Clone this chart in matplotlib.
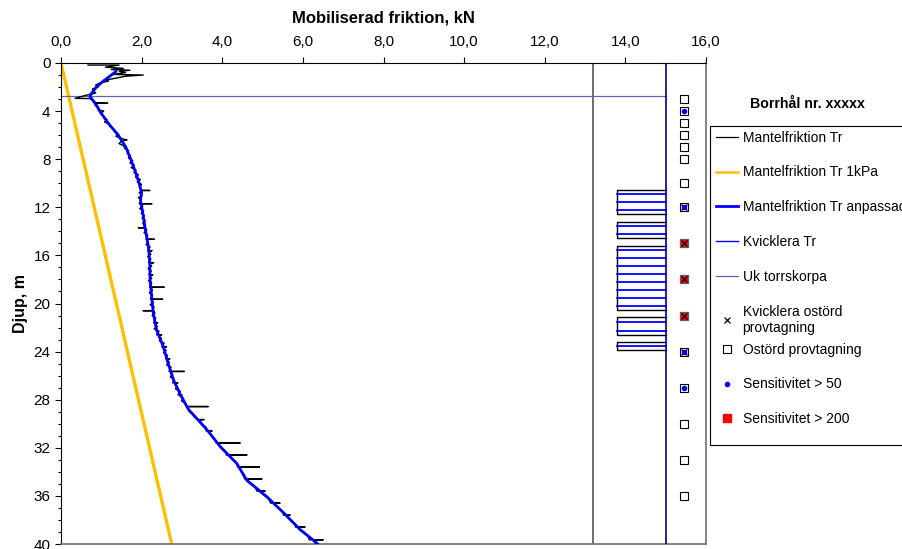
import matplotlib
matplotlib.use("Agg")
import matplotlib.pyplot as plt
from matplotlib.lines import Line2D
from matplotlib.patches import Rectangle
from matplotlib.ticker import MultipleLocator, FuncFormatter

# --- Data ---
# raw mobilised friction, (depth m, friction kN); spikes are repeated depths
raw_tr = [
    (0.17, 0.67), (0.17, 1.44), (0.35, 1.10), (0.45, 1.55), (0.55, 1.25), (0.60, 1.71),
    (0.70, 1.45), (0.80, 1.60), (0.95, 1.30), (1.00, 2.04), (1.10, 1.60), (1.30, 1.30),
    (1.41, 1.12), (1.50, 1.18), (1.69, 0.95), (1.83, 0.86), (2.00, 0.92), (2.15, 0.78),
    (2.30, 0.80), (2.50, 0.86), (2.70, 0.60), (2.94, 0.35), (2.96, 0.72), (3.10, 0.80),
    (3.30, 0.85), (3.35, 1.16), (3.35, 0.86), (3.50, 0.84), (3.70, 0.93), (3.90, 0.94),
    (4.00, 1.06), (4.20, 0.98), (4.50, 1.06), (4.70, 1.14), (4.90, 1.08), (5.10, 1.20),
    (5.30, 1.22), (5.50, 1.31), (5.70, 1.33), (5.90, 1.42), (6.10, 1.36), (6.30, 1.52),
    (6.40, 1.64), (6.50, 1.50), (6.70, 1.44), (6.90, 1.56), (7.10, 1.58), (7.30, 1.68),
    (7.50, 1.64), (7.70, 1.72), (7.90, 1.67), (8.10, 1.78), (8.30, 1.71), (8.50, 1.82),
    (8.70, 1.74), (8.90, 1.86), (9.10, 1.81), (9.30, 1.92), (9.50, 1.85), (9.70, 1.97),
    (9.90, 1.89), (10.10, 2.00), (10.30, 1.94), (10.60, 2.00), (10.60, 2.20), (10.60, 2.00),
    (10.80, 1.94), (11.00, 2.01), (11.20, 1.92), (11.40, 1.99), (11.70, 1.94), (11.70, 2.25),
    (11.70, 1.96), (11.90, 2.03), (12.10, 1.95), (12.30, 2.05), (12.50, 1.99), (12.70, 2.07),
    (12.90, 2.01), (13.10, 2.09), (13.30, 2.03), (13.70, 2.08), (13.70, 1.92), (13.70, 2.08),
    (13.90, 2.13), (14.10, 2.06), (14.30, 2.15), (14.66, 2.11), (14.66, 2.31), (14.66, 2.12),
    (14.90, 2.16), (15.10, 2.11), (15.30, 2.21), (15.60, 2.15), (15.60, 2.26), (15.70, 2.18),
    (15.90, 2.23), (16.10, 2.15), (16.30, 2.23), (16.60, 2.17), (16.60, 2.30), (16.70, 2.20),
    (16.90, 2.25), (17.10, 2.16), (17.30, 2.24), (17.60, 2.18), (17.60, 2.28), (17.70, 2.20),
    (17.90, 2.25), (18.10, 2.17), (18.30, 2.25), (18.65, 2.20), (18.65, 2.56), (18.65, 2.22),
    (18.90, 2.27), (19.10, 2.19), (19.30, 2.27), (19.65, 2.22), (19.65, 2.52), (19.65, 2.24),
    (19.90, 2.29), (20.10, 2.21), (20.30, 2.31), (20.60, 2.26), (20.60, 2.04), (20.60, 2.30),
    (20.80, 2.33), (21.00, 2.26), (21.20, 2.35), (21.60, 2.30), (21.60, 2.40), (21.70, 2.33),
    (21.90, 2.39), (22.10, 2.31), (22.30, 2.43), (22.60, 2.37), (22.60, 2.50), (22.70, 2.42),
    (22.90, 2.49), (23.10, 2.44), (23.30, 2.56), (23.60, 2.50), (23.60, 2.62), (23.70, 2.53),
    (23.90, 2.61), (24.10, 2.54), (24.30, 2.64), (24.60, 2.60), (24.60, 2.70), (24.70, 2.62),
    (24.90, 2.69), (25.10, 2.62), (25.30, 2.73), (25.65, 2.68), (25.65, 3.06), (25.65, 2.72),
    (25.90, 2.77), (26.10, 2.71), (26.30, 2.81), (26.60, 2.77), (26.60, 2.90), (26.70, 2.82),
    (26.90, 2.89), (27.10, 2.84), (27.30, 2.96), (27.60, 2.90), (27.60, 3.00), (27.70, 2.95),
    (27.90, 3.03), (28.10, 2.99), (28.30, 3.09), (28.57, 3.12), (28.57, 3.65), (28.57, 3.14),
    (28.80, 3.17), (29.00, 3.18), (29.20, 3.28), (29.40, 3.30), (29.65, 3.40), (29.65, 3.55),
    (29.70, 3.42), (29.90, 3.48), (30.10, 3.52), (30.30, 3.60), (30.60, 3.60), (30.60, 3.75),
    (30.70, 3.66), (30.90, 3.72), (31.10, 3.76), (31.30, 3.82), (31.60, 3.85), (31.60, 4.44),
    (31.60, 3.88), (31.90, 3.95), (32.10, 4.00), (32.30, 4.08), (32.60, 4.10), (32.60, 4.61),
    (32.60, 4.14), (32.90, 4.24), (33.10, 4.30), (33.30, 4.36), (33.60, 4.38), (33.60, 4.92),
    (33.60, 4.42), (33.90, 4.46), (34.10, 4.50), (34.30, 4.52), (34.60, 4.56), (34.60, 4.98),
    (34.60, 4.60), (34.90, 4.66), (35.10, 4.74), (35.30, 4.82), (35.60, 4.86), (35.60, 5.06),
    (35.60, 4.92), (35.90, 5.02), (36.10, 5.10), (36.30, 5.16), (36.60, 5.20), (36.60, 5.43),
    (36.60, 5.26), (36.90, 5.36), (37.10, 5.42), (37.30, 5.50), (37.60, 5.52), (37.60, 5.68),
    (37.60, 5.58), (37.90, 5.66), (38.10, 5.72), (38.30, 5.80), (38.60, 5.82), (38.60, 6.05),
    (38.60, 5.88), (38.90, 5.98), (39.10, 6.04), (39.30, 6.12), (39.65, 6.16), (39.65, 6.50),
    (39.65, 6.24), (39.90, 6.30), (40.10, 6.36), (40.30, 6.42),
]
raw_depth = [p[0] for p in raw_tr]
raw_fric = [p[1] for p in raw_tr]

# smoothed ("anpassad") curve
adj_depth = [0.72, 1.0, 1.5, 2.0, 2.5, 2.8, 3.5, 4.0, 5.0, 6.0, 7.0, 8.0, 9.0, 10.0,
             10.8, 11.4, 12.5, 14.0, 15.3, 16.5, 18.0, 19.5, 20.8, 22.2, 23.6, 25.0,
             26.35, 27.5, 28.8, 29.5, 30.5, 31.9, 33.3, 34.7, 36.05, 37.4, 38.8, 39.9, 40.3]
adj_fric = [1.36, 1.25, 1.05, 0.88, 0.76, 0.72, 0.88, 0.96, 1.17, 1.42, 1.61, 1.73, 1.84, 1.94,
            2.00, 1.97, 2.03, 2.10, 2.17, 2.20, 2.21, 2.25, 2.29, 2.37, 2.54, 2.66,
            2.79, 2.95, 3.16, 3.35, 3.62, 3.95, 4.36, 4.61, 5.10, 5.52, 5.93, 6.34, 6.45]

# 1 kPa reference line
kpa_depth = [0, 40.2]
kpa_fric = [0, 2.76]

# dry crust bottom
crust_depth = 2.75
crust_x = [0, 15.0]

# quick clay zones (top, bottom) and quick clay Tr lines
qc_x = [13.8, 15.0]
qc_zones = [(10.56, 12.55), (13.19, 14.57), (15.19, 20.53), (21.14, 22.59), (23.17, 23.86)]
qc_lines = [10.89, 11.55, 12.22, 13.55, 14.21, 15.55, 16.21, 16.87, 17.54, 18.23,
            18.87, 19.53, 20.20, 21.50, 22.25, 23.50]

# vertical guide lines
guide_x = [13.2, 15.0]

# sampling column
sample_x = 15.45
undisturbed_depth = [3, 4, 5, 6, 7, 8, 10, 12, 15, 18, 21, 24, 27, 30, 33, 36]
quickclay_sample_depth = [12, 15, 18, 21, 24]
sens50_depth = [4, 12, 24, 27]
sens200_depth = [15, 18, 21]

# --- Figure ---
plt.rcParams['font.family'] = ['Liberation Sans', 'Arial', 'DejaVu Sans']

fig = plt.figure(figsize=(9.02, 5.49), dpi=100)
ax = fig.add_axes([61 / 902, 5 / 549, 645 / 902, 481 / 549])

ax.plot(raw_fric, raw_depth, color='black', lw=1.0, zorder=3)
ax.plot(kpa_fric, kpa_depth, color='#FFC000', lw=2.4, zorder=2)
ax.plot(adj_fric, adj_depth, color='#0000FF', lw=2.0, zorder=4)

for top, bot in qc_zones:
    ax.plot([qc_x[1], qc_x[0], qc_x[0], qc_x[1]], [top, top, bot, bot],
            color='black', lw=1.0, zorder=2)
for d in qc_lines:
    ax.plot(qc_x, [d, d], color='#0000FF', lw=1.3, zorder=3)

ax.plot(crust_x, [crust_depth, crust_depth], color='#6464B4', lw=0.9, zorder=2)

ax.axvline(guide_x[0], color='#555555', lw=1.2, zorder=1)
ax.axvline(guide_x[1], color='#000080', lw=1.2, zorder=5)

ax.plot([sample_x] * len(undisturbed_depth), undisturbed_depth, ls='none', marker='s',
        ms=5.5, mfc='white', mec='black', mew=0.8, zorder=5)
ax.plot([sample_x] * len(sens200_depth), sens200_depth, ls='none', marker='s',
        ms=5.5, mfc='#FF0000', mec='#606060', mew=0.8, zorder=6)
ax.plot([sample_x] * len(quickclay_sample_depth), quickclay_sample_depth, ls='none',
        marker='x', ms=5, color='black', mew=0.9, zorder=7)
ax.plot([sample_x] * len(sens50_depth), sens50_depth, ls='none', marker='o',
        ms=3.0, mfc='#0000FF', mec='#0000FF', zorder=8)

# axes styling
ax.set_xlim(0, 16)
ax.set_ylim(40, 0)
ax.xaxis.set_ticks_position('top')
ax.xaxis.set_label_position('top')
ax.xaxis.set_major_locator(MultipleLocator(2))
ax.xaxis.set_major_formatter(FuncFormatter(lambda v, p: f'{v:.1f}'.replace('.', ',')))
ax.yaxis.set_major_locator(MultipleLocator(4))
ax.yaxis.set_minor_locator(MultipleLocator(1))
ax.yaxis.set_major_formatter(FuncFormatter(lambda v, p: f'{v:.0f}'))
ax.tick_params(axis='x', direction='out', length=4, width=0.8, pad=6, labelsize=11)
ax.tick_params(axis='y', which='major', direction='out', length=4, width=0.8, labelsize=11)
ax.tick_params(axis='y', which='minor', direction='out', length=2.5, width=0.8)
for side in ['top', 'left']:
    ax.spines[side].set_color('black')
for side in ['right', 'bottom']:
    ax.spines[side].set_color('#707070')
    ax.spines[side].set_linewidth(1.2)

ax.set_xlabel('Mobiliserad friktion, kN', fontweight='bold', fontsize=12, labelpad=9)
ax.set_ylabel('Djup, m', fontweight='bold', fontsize=11.5, labelpad=4)

# legend: line series on top, sample markers below (Excel-like spacing), one shared frame
line_handles = [
    Line2D([], [], color='black', lw=0.9),
    Line2D([], [], color='#FFC000', lw=1.8),
    Line2D([], [], color='#0000FF', lw=2.0),
    Line2D([], [], color='#0000FF', lw=1.0),
    Line2D([], [], color='#6464B4', lw=0.9),
    Line2D([], [], ls='none', marker='x', color='black', ms=5, mew=0.9),
]
line_labels = ['Mantelfriktion Tr', 'Mantelfriktion Tr 1kPa', 'Mantelfriktion Tr anpassad',
               'Kvicklera Tr', 'Uk torrskorpa', 'Kvicklera ostörd\nprovtagning']
marker_handles = [
    Line2D([], [], ls='none', marker='s', mfc='white', mec='black', ms=5.5, mew=0.8),
    Line2D([], [], ls='none', marker='o', mfc='#0000FF', mec='#0000FF', ms=3.0),
    Line2D([], [], ls='none', marker='s', mfc='#FF0000', mec='#FF0000', ms=5.5),
]
marker_labels = ['Ostörd provtagning', 'Sensitivitet > 50', 'Sensitivitet > 200']

leg_kw = dict(loc='upper left', frameon=False, fontsize=10, handlelength=1.65,
              handletextpad=0.3, labelspacing=1.5, borderpad=0.4, borderaxespad=0)
fig.legend(line_handles, line_labels, bbox_to_anchor=(710 / 902, 1 - 125 / 549), **leg_kw)
fig.legend(marker_handles, marker_labels, bbox_to_anchor=(710 / 902, 1 - 337 / 549), **leg_kw)
fig.add_artist(Rectangle((710 / 902, 1 - 445 / 549), 0.3, 319 / 549, transform=fig.transFigure,
                         fill=False, edgecolor='black', lw=0.8))

fig.text(807 / 902, 1 - 104 / 549, 'Borrhål nr. xxxxx', ha='center', va='center',
         fontweight='bold', fontsize=10.2)

fig.savefig('out.png', dpi=100)
